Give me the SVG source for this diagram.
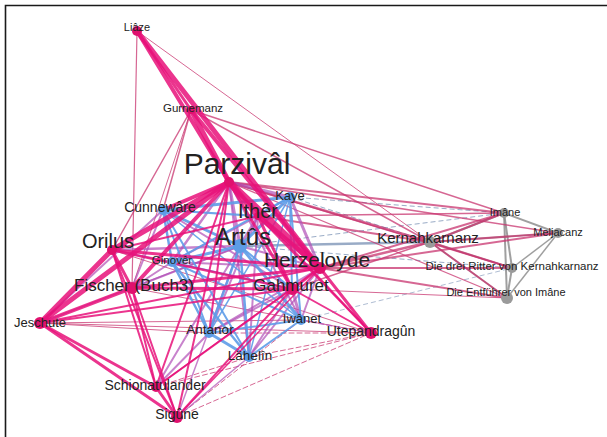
<svg xmlns="http://www.w3.org/2000/svg" width="607" height="437" viewBox="0 0 607 437">
<style>
.pk{stroke:#e8127a;stroke-opacity:.85;stroke-linecap:round}
.mr{stroke:#c8346f;stroke-opacity:.75;stroke-linecap:round}
.pu{stroke:#b04fb6;stroke-opacity:.7;stroke-linecap:round}
.bl{stroke:#5e9ce8;stroke-opacity:.9;stroke-linecap:round}
.gr{stroke:#8e8e8e;stroke-opacity:.85}
.gb{stroke:#7f96b8;stroke-opacity:.8}
.ds{stroke-dasharray:5 3}
.npk{fill:#e0106e}
.nbl{fill:#5d9ce6}
.ngr{fill:#9a9a9a}
text{font-family:"Liberation Sans",Arial,sans-serif;fill:#222;text-anchor:middle}
</style>
<rect width="607" height="437" fill="#fff"/>
<path d="M5.5 437V5.5H607" fill="none" stroke="#1a1a1a" stroke-width="1.6"/>
<g id="connectors">
<line class="gr" x1="504" y1="213" x2="558" y2="233" stroke-width="2"/>
<line class="gr" x1="504" y1="213" x2="512" y2="268" stroke-width="2"/>
<line class="gr" x1="504" y1="213" x2="507" y2="298" stroke-width="2"/>
<line class="gr" x1="558" y1="233" x2="512" y2="268" stroke-width="1.5"/>
<line class="gr" x1="558" y1="233" x2="507" y2="298" stroke-width="1.5"/>
<line class="gr" x1="512" y1="268" x2="507" y2="298" stroke-width="2"/>
<line class="gr" x1="430" y1="242" x2="504" y2="213" stroke-width="2"/>
<line class="gr" x1="430" y1="242" x2="558" y2="233" stroke-width="1.5"/>
<line class="gr" x1="430" y1="242" x2="512" y2="268" stroke-width="1.5"/>
<line class="gr" x1="430" y1="242" x2="507" y2="298" stroke-width="1.5"/>
<line class="gb" x1="240" y1="246" x2="430" y2="242" stroke-width="2.5"/>
<line class="gb ds" x1="290" y1="197" x2="504" y2="213" stroke-width="1"/>
<line class="gb ds" x1="240" y1="246" x2="504" y2="213" stroke-width="1"/>
<line class="gb ds" x1="290" y1="197" x2="430" y2="242" stroke-width="1"/>
<line class="gb ds" x1="240" y1="246" x2="512" y2="268" stroke-width="1"/>
<line class="gb ds" x1="301" y1="320" x2="512" y2="268" stroke-width="0.8"/>
<line class="mr" x1="137" y1="31" x2="430" y2="242" stroke-width="1"/>
<line class="mr" x1="191" y1="110" x2="430" y2="242" stroke-width="1.5"/>
<line class="mr" x1="191" y1="110" x2="504" y2="213" stroke-width="1.5"/>
<line class="mr" x1="229" y1="182" x2="430" y2="242" stroke-width="2.5"/>
<line class="mr" x1="229" y1="182" x2="504" y2="213" stroke-width="2"/>
<line class="mr" x1="229" y1="182" x2="558" y2="233" stroke-width="1.5"/>
<line class="mr" x1="229" y1="182" x2="512" y2="268" stroke-width="1.5"/>
<line class="mr" x1="229" y1="182" x2="507" y2="298" stroke-width="1.2"/>
<line class="mr" x1="258" y1="216" x2="430" y2="242" stroke-width="2"/>
<line class="mr" x1="258" y1="216" x2="504" y2="213" stroke-width="1.5"/>
<line class="mr" x1="320" y1="268" x2="430" y2="242" stroke-width="2.5"/>
<line class="mr" x1="320" y1="268" x2="504" y2="213" stroke-width="2"/>
<line class="mr" x1="320" y1="268" x2="558" y2="233" stroke-width="2"/>
<line class="mr" x1="320" y1="268" x2="512" y2="268" stroke-width="2"/>
<line class="mr" x1="320" y1="268" x2="507" y2="298" stroke-width="2"/>
<line class="mr" x1="292" y1="289" x2="430" y2="242" stroke-width="1.5"/>
<line class="mr" x1="292" y1="289" x2="507" y2="298" stroke-width="1"/>
<line class="mr" x1="430" y1="242" x2="504" y2="213" stroke-width="2"/>
<line class="mr" x1="430" y1="242" x2="558" y2="233" stroke-width="2"/>
<line class="mr" x1="430" y1="242" x2="512" y2="268" stroke-width="2"/>
<line class="mr" x1="430" y1="242" x2="507" y2="298" stroke-width="2"/>
<line class="mr ds" x1="177" y1="417" x2="371" y2="333" stroke-width="1"/>
<line class="mr ds" x1="156" y1="387" x2="371" y2="333" stroke-width="1"/>
<line class="mr ds" x1="249" y1="357" x2="371" y2="333" stroke-width="1"/>
<line class="mr ds" x1="209" y1="333" x2="371" y2="333" stroke-width="1"/>
<line class="mr ds" x1="177" y1="417" x2="301" y2="320" stroke-width="1"/>
<line class="mr ds" x1="156" y1="387" x2="249" y2="357" stroke-width="1"/>
<line class="mr" x1="40" y1="323" x2="371" y2="333" stroke-width="1"/>
<line class="mr" x1="40" y1="323" x2="209" y2="333" stroke-width="1"/>
<line class="mr" x1="40" y1="323" x2="301" y2="320" stroke-width="1"/>
<line class="mr" x1="112" y1="250" x2="371" y2="333" stroke-width="1"/>
<line class="mr" x1="132" y1="288" x2="371" y2="333" stroke-width="1"/>
<line class="mr" x1="137" y1="31" x2="132" y2="288" stroke-width="1.2"/>
<line class="mr" x1="191" y1="110" x2="163" y2="210" stroke-width="1.5"/>
<line class="mr" x1="191" y1="110" x2="112" y2="250" stroke-width="1.5"/>
<line class="mr" x1="191" y1="110" x2="132" y2="288" stroke-width="1"/>
<line class="pu" x1="229" y1="182" x2="240" y2="246" stroke-width="3"/>
<line class="pu" x1="229" y1="182" x2="172" y2="262" stroke-width="2.5"/>
<line class="pu" x1="229" y1="182" x2="290" y2="197" stroke-width="3"/>
<line class="pu" x1="229" y1="182" x2="249" y2="357" stroke-width="2"/>
<line class="pu" x1="229" y1="182" x2="301" y2="320" stroke-width="2"/>
<line class="pu" x1="112" y1="250" x2="172" y2="262" stroke-width="2"/>
<line class="pu" x1="112" y1="250" x2="240" y2="246" stroke-width="2.5"/>
<line class="pu" x1="132" y1="288" x2="172" y2="262" stroke-width="2"/>
<line class="pu" x1="132" y1="288" x2="163" y2="210" stroke-width="2"/>
<line class="pu" x1="132" y1="288" x2="240" y2="246" stroke-width="2"/>
<line class="pu" x1="320" y1="268" x2="240" y2="246" stroke-width="2"/>
<line class="pu" x1="320" y1="268" x2="290" y2="197" stroke-width="3"/>
<line class="pu" x1="320" y1="268" x2="172" y2="262" stroke-width="2"/>
<line class="pu" x1="320" y1="268" x2="209" y2="333" stroke-width="2"/>
<line class="pu" x1="320" y1="268" x2="249" y2="357" stroke-width="2"/>
<line class="pu" x1="320" y1="268" x2="301" y2="320" stroke-width="2"/>
<line class="pu" x1="292" y1="289" x2="209" y2="333" stroke-width="2"/>
<line class="pu" x1="292" y1="289" x2="249" y2="357" stroke-width="2"/>
<line class="pu" x1="292" y1="289" x2="301" y2="320" stroke-width="3"/>
<line class="pu" x1="292" y1="289" x2="163" y2="210" stroke-width="2"/>
<line class="pu" x1="40" y1="323" x2="163" y2="210" stroke-width="2"/>
<line class="pu" x1="40" y1="323" x2="240" y2="246" stroke-width="1.5"/>
<line class="pu" x1="156" y1="387" x2="209" y2="333" stroke-width="2"/>
<line class="pu" x1="156" y1="387" x2="240" y2="246" stroke-width="2"/>
<line class="pu" x1="177" y1="417" x2="249" y2="357" stroke-width="1.5"/>
<line class="pu" x1="177" y1="417" x2="240" y2="246" stroke-width="1.5"/>
<line class="pu" x1="258" y1="216" x2="240" y2="246" stroke-width="3"/>
<line class="pu" x1="258" y1="216" x2="172" y2="262" stroke-width="2"/>
<line class="pu" x1="258" y1="216" x2="209" y2="333" stroke-width="2"/>
<line class="pu" x1="258" y1="216" x2="249" y2="357" stroke-width="2"/>
<line class="pu ds" x1="371" y1="333" x2="301" y2="320" stroke-width="1.5"/>
<line class="bl" x1="163" y1="210" x2="290" y2="197" stroke-width="3"/>
<line class="bl" x1="163" y1="210" x2="240" y2="246" stroke-width="3"/>
<line class="bl" x1="163" y1="210" x2="172" y2="262" stroke-width="2.5"/>
<line class="bl" x1="163" y1="210" x2="209" y2="333" stroke-width="2"/>
<line class="bl" x1="163" y1="210" x2="249" y2="357" stroke-width="2"/>
<line class="bl" x1="163" y1="210" x2="301" y2="320" stroke-width="1.5"/>
<line class="bl" x1="163" y1="210" x2="258" y2="216" stroke-width="2"/>
<line class="bl" x1="290" y1="197" x2="240" y2="246" stroke-width="3"/>
<line class="bl" x1="290" y1="197" x2="258" y2="216" stroke-width="2"/>
<line class="bl" x1="290" y1="197" x2="292" y2="289" stroke-width="2"/>
<line class="bl" x1="290" y1="197" x2="301" y2="320" stroke-width="2"/>
<line class="bl" x1="290" y1="197" x2="249" y2="357" stroke-width="1.5"/>
<line class="bl" x1="290" y1="197" x2="172" y2="262" stroke-width="2"/>
<line class="bl" x1="290" y1="197" x2="209" y2="333" stroke-width="1.5"/>
<line class="bl" x1="240" y1="246" x2="172" y2="262" stroke-width="3"/>
<line class="bl" x1="240" y1="246" x2="209" y2="333" stroke-width="2.5"/>
<line class="bl" x1="240" y1="246" x2="249" y2="357" stroke-width="2.5"/>
<line class="bl" x1="240" y1="246" x2="301" y2="320" stroke-width="3"/>
<line class="bl" x1="240" y1="246" x2="292" y2="289" stroke-width="2"/>
<line class="bl" x1="172" y1="262" x2="209" y2="333" stroke-width="2.5"/>
<line class="bl" x1="172" y1="262" x2="249" y2="357" stroke-width="2.5"/>
<line class="bl" x1="172" y1="262" x2="301" y2="320" stroke-width="2"/>
<line class="bl" x1="172" y1="262" x2="292" y2="289" stroke-width="1.5"/>
<line class="bl" x1="209" y1="333" x2="249" y2="357" stroke-width="3"/>
<line class="bl" x1="209" y1="333" x2="301" y2="320" stroke-width="2"/>
<line class="bl" x1="249" y1="357" x2="301" y2="320" stroke-width="2"/>
<line class="pk" x1="137" y1="31" x2="320" y2="268" stroke-width="5"/>
<line class="pk" x1="137" y1="31" x2="229" y2="182" stroke-width="4"/>
<line class="pk" x1="191" y1="110" x2="229" y2="182" stroke-width="5"/>
<line class="pk" x1="191" y1="110" x2="320" y2="268" stroke-width="4"/>
<line class="pk" x1="137" y1="31" x2="191" y2="110" stroke-width="3"/>
<line class="pk" x1="229" y1="182" x2="320" y2="268" stroke-width="7"/>
<line class="pk" x1="229" y1="182" x2="258" y2="216" stroke-width="6"/>
<line class="pk" x1="258" y1="216" x2="320" y2="268" stroke-width="5"/>
<line class="pk" x1="229" y1="182" x2="112" y2="250" stroke-width="5"/>
<line class="pk" x1="229" y1="182" x2="40" y2="323" stroke-width="5"/>
<line class="pk" x1="229" y1="182" x2="132" y2="288" stroke-width="4"/>
<line class="pk" x1="229" y1="182" x2="163" y2="210" stroke-width="4"/>
<line class="pk" x1="229" y1="182" x2="292" y2="289" stroke-width="3"/>
<line class="pk" x1="229" y1="182" x2="371" y2="333" stroke-width="2"/>
<line class="pk" x1="229" y1="182" x2="177" y2="417" stroke-width="2"/>
<line class="pk" x1="229" y1="182" x2="156" y2="387" stroke-width="2"/>
<line class="pk" x1="229" y1="182" x2="209" y2="333" stroke-width="2"/>
<line class="pk" x1="112" y1="250" x2="40" y2="323" stroke-width="5"/>
<line class="pk" x1="112" y1="250" x2="132" y2="288" stroke-width="3"/>
<line class="pk" x1="112" y1="250" x2="320" y2="268" stroke-width="3"/>
<line class="pk" x1="112" y1="250" x2="292" y2="289" stroke-width="2.5"/>
<line class="pk" x1="112" y1="250" x2="156" y2="387" stroke-width="2"/>
<line class="pk" x1="112" y1="250" x2="177" y2="417" stroke-width="2"/>
<line class="pk" x1="112" y1="250" x2="258" y2="216" stroke-width="2"/>
<line class="pk" x1="132" y1="288" x2="40" y2="323" stroke-width="4"/>
<line class="pk" x1="132" y1="288" x2="320" y2="268" stroke-width="3"/>
<line class="pk" x1="132" y1="288" x2="292" y2="289" stroke-width="3"/>
<line class="pk" x1="132" y1="288" x2="156" y2="387" stroke-width="2"/>
<line class="pk" x1="132" y1="288" x2="177" y2="417" stroke-width="2"/>
<line class="pk" x1="40" y1="323" x2="156" y2="387" stroke-width="3"/>
<line class="pk" x1="40" y1="323" x2="177" y2="417" stroke-width="3"/>
<line class="pk" x1="40" y1="323" x2="292" y2="289" stroke-width="2"/>
<line class="pk" x1="40" y1="323" x2="320" y2="268" stroke-width="2"/>
<line class="pk" x1="156" y1="387" x2="177" y2="417" stroke-width="3"/>
<line class="pk" x1="156" y1="387" x2="292" y2="289" stroke-width="2"/>
<line class="pk" x1="156" y1="387" x2="320" y2="268" stroke-width="1.5"/>
<line class="pk" x1="177" y1="417" x2="292" y2="289" stroke-width="2"/>
<line class="pk" x1="177" y1="417" x2="320" y2="268" stroke-width="1.5"/>
<line class="pk" x1="292" y1="289" x2="320" y2="268" stroke-width="3"/>
<line class="pk" x1="292" y1="289" x2="371" y2="333" stroke-width="2"/>
<line class="pk" x1="320" y1="268" x2="371" y2="333" stroke-width="3"/>
<line class="pk" x1="258" y1="216" x2="371" y2="333" stroke-width="2"/>
<line class="pk" x1="258" y1="216" x2="292" y2="289" stroke-width="3"/>
</g>
<g id="n-parzival"><circle class="npk" cx="229" cy="182" r="5"/><text x="237" y="174" font-size="30">Parzivâl</text></g>
<g id="n-liaze"><circle class="npk" cx="137" cy="31" r="5"/><text x="137" y="31" font-size="11">Liâze</text></g>
<g id="n-gurnemanz"><circle class="npk" cx="191" cy="110" r="4"/><text x="193" y="112" font-size="11.5">Gurnemanz</text></g>
<g id="n-cunneware"><circle class="nbl" cx="163" cy="210" r="5"/><text x="160" y="212" font-size="14">Cunnewâre</text></g>
<g id="n-kaye"><circle class="nbl" cx="290" cy="197" r="5"/><text x="290" y="200" font-size="13">Kaye</text></g>
<g id="n-ither"><circle class="npk" cx="258" cy="216" r="4"/><text x="258" y="218" font-size="20">Ithêr</text></g>
<g id="n-artus"><circle class="nbl" cx="240" cy="246" r="7"/><text x="243" y="245" font-size="24">Artûs</text></g>
<g id="n-orilus"><circle class="npk" cx="112" cy="250" r="5"/><text x="108" y="248" font-size="20">Orilus</text></g>
<g id="n-ginover"><circle class="nbl" cx="172" cy="262" r="5"/><text x="172" y="264" font-size="11.5">Ginovêr</text></g>
<g id="n-herzeloyde"><circle class="npk" cx="320" cy="268" r="6"/><text x="317" y="267" font-size="21">Herzeloyde</text></g>
<g id="n-fischer"><circle class="npk" cx="132" cy="288" r="6"/><text x="134" y="291" font-size="17">Fischer (Buch3)</text></g>
<g id="n-gahmuret"><circle class="npk" cx="292" cy="289" r="6"/><text x="291" y="291" font-size="17">Gahmuret</text></g>
<g id="n-jeschute"><circle class="npk" cx="40" cy="323" r="6"/><text x="40" y="327" font-size="13">Jeschute</text></g>
<g id="n-antanor"><circle class="nbl" cx="209" cy="333" r="5"/><text x="210" y="334" font-size="13.5">Antanor</text></g>
<g id="n-iwanet"><circle class="nbl" cx="301" cy="320" r="5"/><text x="302" y="323" font-size="13">Iwânet</text></g>
<g id="n-utepandragun"><circle class="npk" cx="371" cy="333" r="6"/><text x="371" y="336" font-size="14">Utepandragûn</text></g>
<g id="n-lahelin"><circle class="nbl" cx="249" cy="357" r="5"/><text x="250" y="360" font-size="13.5">Lähelîn</text></g>
<g id="n-schionatulander"><circle class="npk" cx="156" cy="387" r="5"/><text x="155" y="390" font-size="14">Schionatulander</text></g>
<g id="n-sigune"><circle class="npk" cx="177" cy="417" r="6"/><text x="177" y="419" font-size="14">Sigûne</text></g>
<g id="n-kernahkarnanz"><circle class="ngr" cx="430" cy="242" r="6"/><text x="428" y="243" font-size="15">Kernahkarnanz</text></g>
<g id="n-imane"><circle class="ngr" cx="504" cy="213" r="5"/><text x="505" y="216" font-size="11">Imâne</text></g>
<g id="n-meljacanz"><circle class="ngr" cx="558" cy="233" r="5"/><text x="558" y="236" font-size="11">Meljacanz</text></g>
<g id="n-drei-ritter"><circle class="ngr" cx="512" cy="268" r="5"/><text x="512" y="270" font-size="11.5">Die drei Ritter von Kernahkarnanz</text></g>
<g id="n-entfuehrer"><circle class="ngr" cx="507" cy="298" r="6"/><text x="506" y="296" font-size="11">Die Entführer von Imâne</text></g>
</svg>
